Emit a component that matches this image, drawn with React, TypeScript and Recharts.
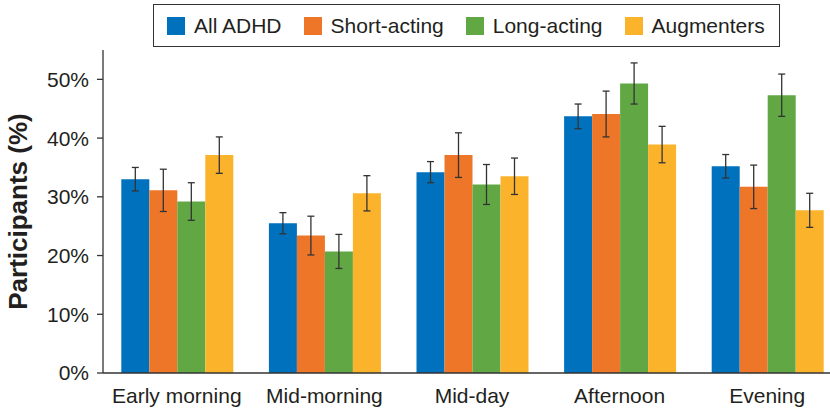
import React from 'react'
import { BarChart, Bar, XAxis, YAxis, ErrorBar, Legend } from 'recharts'

// --- Categories and series (percent of participants, with error) ---
const TIMES = ['Early morning', 'Mid-morning', 'Mid-day', 'Afternoon', 'Evening']

const ALL_ADHD = [33.0, 25.5, 34.2, 43.7, 35.2]
const ALL_ADHD_ERR = [2.0, 1.8, 1.8, 2.1, 2.0]

const SHORT_ACTING = [31.1, 23.4, 37.1, 44.1, 31.7]
const SHORT_ACTING_ERR = [3.6, 3.3, 3.8, 3.9, 3.7]

const LONG_ACTING = [29.2, 20.7, 32.1, 49.3, 47.3]
const LONG_ACTING_ERR = [3.2, 2.9, 3.4, 3.5, 3.6]

const AUGMENTERS = [37.1, 30.6, 33.5, 38.9, 27.7]
const AUGMENTERS_ERR = [3.1, 3.0, 3.1, 3.1, 2.9]

const Y_TICKS = [0, 10, 20, 30, 40, 50]
const BAND_EDGES = [0, 1, 2, 3, 4, 5]

const COLORS = {
  all: '#0071bc',
  short: '#ee7629',
  long: '#61a845',
  aug: '#fbb32c',
}

const FONT = "'Liberation Sans', Arial, Helvetica, sans-serif"
const INK = '#231f20'
const AXIS = '#333333'

const data = TIMES.map((name, i) => ({
  name,
  edge: i,
  all: ALL_ADHD[i],
  allErr: ALL_ADHD_ERR[i],
  short: SHORT_ACTING[i],
  shortErr: SHORT_ACTING_ERR[i],
  long: LONG_ACTING[i],
  longErr: LONG_ACTING_ERR[i],
  aug: AUGMENTERS[i],
  augErr: AUGMENTERS_ERR[i],
}))

const series = [
  { key: 'all', name: 'All ADHD', color: COLORS.all },
  { key: 'short', name: 'Short-acting', color: COLORS.short },
  { key: 'long', name: 'Long-acting', color: COLORS.long },
  { key: 'aug', name: 'Augmenters', color: COLORS.aug },
]

// Boxed legend along the top, kept in series order
function BoxLegend() {
  return (
    <div
      style={{
        display: 'flex',
        alignItems: 'center',
        boxSizing: 'border-box',
        height: 43,
        padding: '0 0 0 13px',
        border: `1.5px solid ${AXIS}`,
        background: '#fff',
        fontFamily: FONT,
        fontSize: 21,
        color: INK,
      }}
    >
      {series.map((s, i) => (
        <div key={s.key} style={{ display: 'flex', alignItems: 'center', marginLeft: i === 0 ? 0 : 22 }}>
          <span style={{ width: 18, height: 18, background: s.color, marginRight: 9, display: 'inline-block' }} />
          <span>{s.name}</span>
        </div>
      ))}
    </div>
  )
}

export default function App() {
  return (
    <div style={{ position: 'fixed', top: 0, left: 0, width: 830, height: 411, overflow: 'hidden', background: '#fff' }}>
      <BarChart
        width={850}
        height={411}
        data={data}
        margin={{ top: 50, right: 9, left: 0, bottom: 0 }}
        barCategoryGap="12.4%"
        barGap={0}
        style={{ fontFamily: FONT }}
      >
        {/* baseline with tick marks at the band edges */}
        <XAxis
          xAxisId={0}
          type="number"
          dataKey="edge"
          domain={[0, 5]}
          allowDataOverflow
          ticks={BAND_EDGES}
          tick={false}
          axisLine={{ stroke: AXIS, strokeWidth: 1.3 }}
          tickLine={{ stroke: AXIS, strokeWidth: 1.3 }}
          tickSize={6}
          height={1}
        />
        <XAxis
          xAxisId="cat"
          dataKey="name"
          tickLine={false}
          axisLine={false}
          tick={{ fill: INK, fontSize: 21 }}
          tickSize={0}
          tickMargin={14}
          height={37}
          interval={0}
        />
        <YAxis
          width={103}
          domain={[0, 55]}
          ticks={Y_TICKS}
          tickFormatter={(v) => `${v}%`}
          axisLine={{ stroke: AXIS, strokeWidth: 1.3 }}
          tickLine={{ stroke: AXIS, strokeWidth: 1.3 }}
          tickSize={6}
          tickMargin={8}
          tick={{ fill: INK, fontSize: 21 }}
          label={{
            value: 'Participants (%)',
            angle: -90,
            position: 'insideLeft',
            offset: 18,
            style: { textAnchor: 'middle', fontSize: 26, fontWeight: 'bold', fill: INK },
          }}
        />
        <Legend
          layout="horizontal"
          verticalAlign="middle"
          align="center"
          wrapperStyle={{ top: 4, left: 153, width: 627, height: 43 }}
          content={() => <BoxLegend />}
        />
        {series.map((s) => (
          <Bar key={s.key} xAxisId="cat" dataKey={s.key} name={s.name} fill={s.color} isAnimationActive={false}>
            <ErrorBar dataKey={`${s.key}Err`} width={3.5} stroke={AXIS} strokeWidth={1.3} />
          </Bar>
        ))}
      </BarChart>
    </div>
  )
}
